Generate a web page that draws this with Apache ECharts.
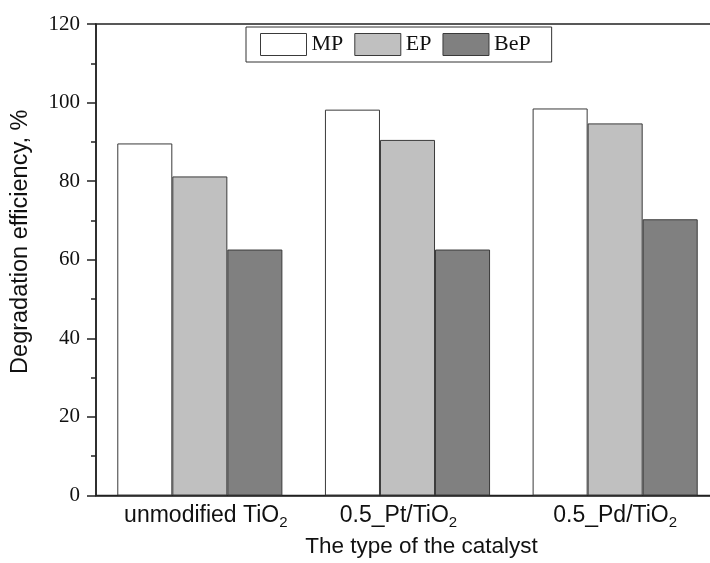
<!DOCTYPE html>
<html>
<head>
<meta charset="utf-8">
<script src="https://cdn.jsdelivr.net/npm/echarts@6/dist/echarts.min.js"></script>
<style>
  html, body { margin: 0; padding: 0; background: #fff; }
  #chart { width: 710px; height: 563px; }
</style>
</head>
<body>
<div id="chart"></div>
<script>
// catalysts on the x axis (trailing "2" becomes a subscript)
const categories = ['unmodified TiO2', '0.5_Pt/TiO2', '0.5_Pd/TiO2'];
const seriesNames = ['MP', 'EP', 'BeP'];
const seriesColors = ['#ffffff', '#c0c0c0', '#808080'];

// degradation efficiency, %
const mpValues = [89.6, 98.2, 98.5];
const epValues = [81.2, 90.5, 94.7];
const bepValues = [62.6, 62.6, 70.3];

const yTicks = { min: 0, max: 120, interval: 20 };

const chart = echarts.init(document.getElementById('chart'));

const sans = 'Liberation Sans';
const serif = 'Liberation Serif';

// the labels in the original are not quite centred under their groups
const labelPads = [[0, 0, 0, 12], [0, 18, 0, 0], [0, 0, 0, 0]];

const barStyle = (color) => ({
  color: color,
  borderColor: '#3a3a3a',
  borderWidth: 1
});

chart.setOption({
  animation: false,
  backgroundColor: '#fff',
  grid: {
    left: 96,
    top: 24,
    width: 623,
    bottom: 67.5,
    outerBoundsMode: 'none',
    containLabel: false,
    show: true,
    borderColor: '#222',
    borderWidth: 1.5,
    backgroundColor: 'transparent'
  },
  legend: {
    left: 246,
    top: 27,
    orient: 'horizontal',
    data: seriesNames,
    icon: 'rect',
    itemWidth: 46,
    itemHeight: 22,
    itemGap: 11,
    padding: [6, 21, 6, 14],
    borderColor: '#333',
    borderWidth: 1,
    backgroundColor: '#fff',
    itemStyle: { borderColor: '#3a3a3a', borderWidth: 1 },
    textStyle: { fontFamily: serif, fontSize: 22, color: '#111' }
  },
  xAxis: {
    type: 'category',
    data: categories.map((c, i) => ({ value: c, textStyle: { padding: labelPads[i] } })),
    name: 'The type of the catalyst',
    nameLocation: 'middle',
    nameGap: 31,
    nameTextStyle: { fontFamily: sans, fontSize: 22.5, color: '#111', padding: [0, 0, 0, 28] },
    axisLine: { lineStyle: { color: '#222', width: 1.5 } },
    axisTick: { show: false },
    axisLabel: {
      margin: 5,
      formatter: (v) => v.replace(/O2$/, 'O{s|2}').replace(/^([^{]+)/, '{m|$1}'),
      rich: {
        m: { fontFamily: sans, fontSize: 23, color: '#111' },
        s: { fontFamily: sans, fontSize: 15, color: '#111', padding: [15, 0, 0, 0] }
      }
    },
    splitLine: { show: false }
  },
  yAxis: {
    type: 'value',
    min: yTicks.min,
    max: yTicks.max,
    interval: yTicks.interval,
    name: 'Degradation efficiency, %',
    nameLocation: 'middle',
    nameGap: 63,
    nameTextStyle: { fontFamily: sans, fontSize: 23.5, color: '#111', padding: [0, 0, 0, 36] },
    axisLine: { show: true, lineStyle: { color: '#222', width: 1.5 } },
    axisTick: { show: true, length: 9, lineStyle: { color: '#222', width: 1.5 } },
    minorTick: { show: true, splitNumber: 2, length: 5, lineStyle: { color: '#222', width: 1.5 } },
    axisLabel: { margin: 16, fontFamily: serif, fontSize: 21, color: '#111' },
    splitLine: { show: false }
  },
  series: [mpValues, epValues, bepValues].map((vals, i) => ({
    name: seriesNames[i],
    type: 'bar',
    data: vals,
    barGap: '0%',
    barCategoryGap: '20.5%',
    itemStyle: barStyle(seriesColors[i])
  }))
});
</script>
</body>
</html>
